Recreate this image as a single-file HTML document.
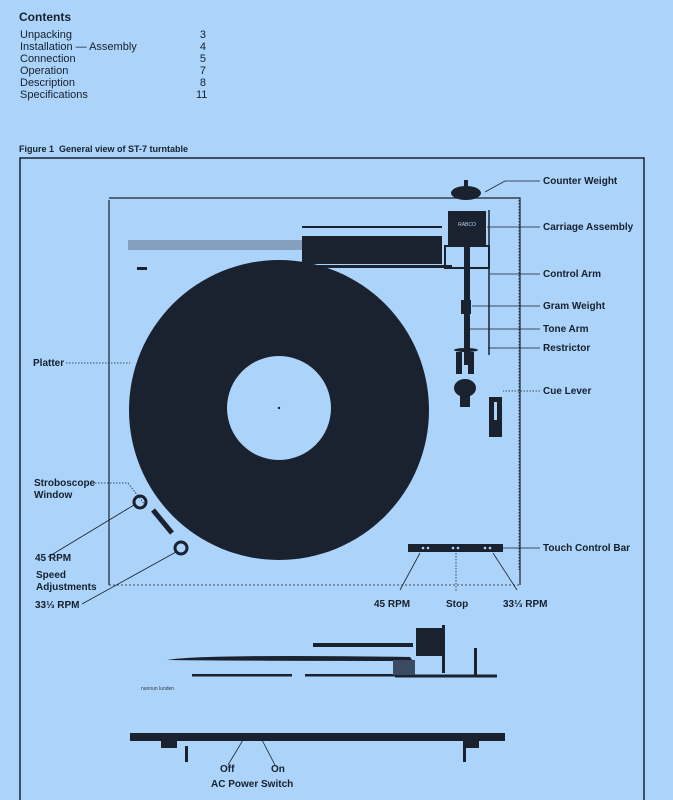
<!DOCTYPE html>
<html><head><meta charset="utf-8"><style>
html,body{margin:0;padding:0;background:#acd3f9;}
body{width:673px;height:800px;overflow:hidden;position:relative;font-family:"Liberation Sans",sans-serif;color:#15202e;}
.t{position:absolute;font-size:11px;line-height:12px;}
.b{font-weight:bold;font-size:10px;}
</style></head><body>
<div class="t b" style="left:19px;top:11px;font-size:12px;">Contents</div>
<div class="t" style="left:20px;top:29px;">Unpacking<br>Installation — Assembly<br>Connection<br>Operation<br>Description<br>Specifications</div>
<div class="t" style="left:196px;top:29px;text-align:right;width:10px;">3<br>4<br>5<br>7<br>8<br>11</div>
<div class="t b" style="left:19px;top:143px;font-size:9px;">Figure 1&nbsp; General view of ST-7 turntable</div>

<svg width="673" height="800" style="position:absolute;left:0;top:0" xmlns="http://www.w3.org/2000/svg">
<g stroke="#1a2230" fill="none">
<rect x="20" y="158" width="624" height="660" stroke-width="1.5"/>
<path d="M109 200 L109 585 M109 198 L520 198 L520 585" stroke-width="1.2"/>
<path d="M109 585 L520 585" stroke-dasharray="2 2" stroke-width="0.8"/>
</g>
<!-- arm rest area -->
<rect x="128" y="240" width="175" height="10" fill="#6a7f98" opacity="0.6"/>
<rect x="302" y="236" width="140" height="28" fill="#1a2230"/>
<rect x="302" y="226" width="140" height="2" fill="#1a2230"/>
<rect x="302" y="265" width="150" height="3" fill="#1a2230"/>
<rect x="137" y="267" width="10" height="3" fill="#1a2230"/>
<!-- platter -->
<circle cx="279" cy="410" r="150" fill="#1a2230"/>
<circle cx="279" cy="408" r="52" fill="#acd3f9"/>
<circle cx="279" cy="408" r="1.2" fill="#1a2230"/>
<!-- counter weight & carriage -->
<ellipse cx="466" cy="193" rx="15" ry="7" fill="#1a2230"/>
<rect x="464" y="180" width="4" height="8" fill="#1a2230"/>
<rect x="448" y="211" width="38" height="35" fill="#1a2230"/>
<text x="467" y="226" font-size="5" fill="#acd3f9" text-anchor="middle" font-family="Liberation Sans">RABCO</text>
<rect x="445" y="246" width="44" height="22" fill="none" stroke="#1a2230" stroke-width="2"/>
<rect x="464" y="245" width="6" height="120" fill="#1a2230"/>
<rect x="461" y="300" width="10" height="14" fill="#1a2230"/>
<line x1="489" y1="210" x2="489" y2="355" stroke="#1a2230" stroke-width="1.5"/>
<ellipse cx="466" cy="350" rx="12" ry="2" fill="#1a2230"/>
<rect x="456" y="352" width="6" height="22" fill="#1a2230"/><rect x="468" y="352" width="6" height="22" fill="#1a2230"/>
<ellipse cx="465" cy="388" rx="11" ry="9" fill="#1a2230"/>
<rect x="460" y="395" width="10" height="12" fill="#1a2230"/>
<rect x="489" y="397" width="13" height="40" fill="#1a2230"/>
<rect x="494" y="402" width="3" height="18" fill="#acd3f9"/>
<!-- strobe / speed -->
<circle cx="140" cy="502" r="6" fill="none" stroke="#1a2230" stroke-width="3"/>
<circle cx="181" cy="548" r="6" fill="none" stroke="#1a2230" stroke-width="3"/>
<path d="M153 510 L172 533" stroke="#1a2230" stroke-width="5"/>
<!-- touch bar -->
<rect x="408" y="544" width="95" height="8" fill="#1a2230"/>
<g fill="#acd3f9"><circle cx="423" cy="548" r="1.3"/><circle cx="428" cy="548" r="1.3"/><circle cx="453" cy="548" r="1.3"/><circle cx="458" cy="548" r="1.3"/><circle cx="485" cy="548" r="1.3"/><circle cx="490" cy="548" r="1.3"/></g>
<!-- leader lines -->
<g stroke="#1a2230" stroke-width="0.8" fill="none">
<path d="M540 181 L505 181 L485 192"/>
<path d="M540 227 L487 227"/>
<path d="M540 274 L490 274"/>
<path d="M540 306 L472 306"/>
<path d="M540 329 L468 329"/>
<path d="M540 348 L488 348"/>
<path d="M540 391 L503 391" stroke-dasharray="1.5 1.5"/>
<path d="M66 363 L130 363" stroke-dasharray="1.5 1.5"/>
<path d="M95 483 L128 483 L145 505" stroke-dasharray="1.5 1.5"/>
<path d="M48 557 L134 505"/>
<path d="M82 604 L176 552"/>
<path d="M540 548 L503 548"/>
<path d="M420 553 L400 590"/>
<path d="M456 553 L456 592" stroke-dasharray="1.5 1.5"/>
<path d="M493 553 L517 590"/>
<path d="M519 200 L519 570" stroke-dasharray="1.5 1.5"/>
<path d="M243 740 L228 765"/>
<path d="M262 740 L275 765"/>
</g>
<!-- side view -->
<rect x="313" y="643" width="100" height="4" fill="#1a2230"/>
<path d="M167 660 Q200 654 410 657 L413 661 Q250 661 167 660 Z" fill="#1a2230"/>
<rect x="192" y="674" width="100" height="2.5" fill="#1a2230"/>
<rect x="305" y="674" width="90" height="2.5" fill="#1a2230"/>
<path d="M395 676 L497 676" stroke="#1a2230" stroke-width="3"/>
<rect x="416" y="628" width="28" height="28" fill="#1a2230"/>
<rect x="393" y="660" width="22" height="15" fill="#3a4a60"/>
<rect x="442" y="625" width="3" height="48" fill="#1a2230"/>
<rect x="474" y="648" width="3" height="28" fill="#1a2230"/>
<text x="141" y="690" font-size="5" fill="#2a3a50" font-family="Liberation Sans">nunnun lunden</text>
<rect x="130" y="733" width="375" height="8" fill="#1a2230"/>
<rect x="161" y="741" width="16" height="7" fill="#1a2230"/>
<rect x="463" y="741" width="16" height="7" fill="#1a2230"/>
<rect x="185" y="746" width="3" height="16" fill="#1a2230"/>
<rect x="463" y="746" width="3" height="16" fill="#1a2230"/>
</g>
</svg>

<div class="t b" style="left:543px;top:176px;">Counter Weight</div>
<div class="t b" style="left:543px;top:222px;">Carriage Assembly</div>
<div class="t b" style="left:543px;top:269px;">Control Arm</div>
<div class="t b" style="left:543px;top:301px;">Gram Weight</div>
<div class="t b" style="left:543px;top:324px;">Tone Arm</div>
<div class="t b" style="left:543px;top:343px;">Restrictor</div>
<div class="t b" style="left:543px;top:386px;">Cue Lever</div>
<div class="t b" style="left:33px;top:358px;">Platter</div>
<div class="t b" style="left:34px;top:478px;">Stroboscope<br>Window</div>
<div class="t b" style="left:35px;top:553px;">45 RPM</div>
<div class="t b" style="left:36px;top:570px;">Speed<br>Adjustments</div>
<div class="t b" style="left:35px;top:600px;">33⅓ RPM</div>
<div class="t b" style="left:543px;top:543px;">Touch Control Bar</div>
<div class="t b" style="left:374px;top:599px;">45 RPM</div>
<div class="t b" style="left:446px;top:599px;">Stop</div>
<div class="t b" style="left:503px;top:599px;">33⅓ RPM</div>
<div class="t b" style="left:220px;top:764px;">Off</div>
<div class="t b" style="left:271px;top:764px;">On</div>
<div class="t b" style="left:211px;top:779px;">AC Power Switch</div>
</body></html>
